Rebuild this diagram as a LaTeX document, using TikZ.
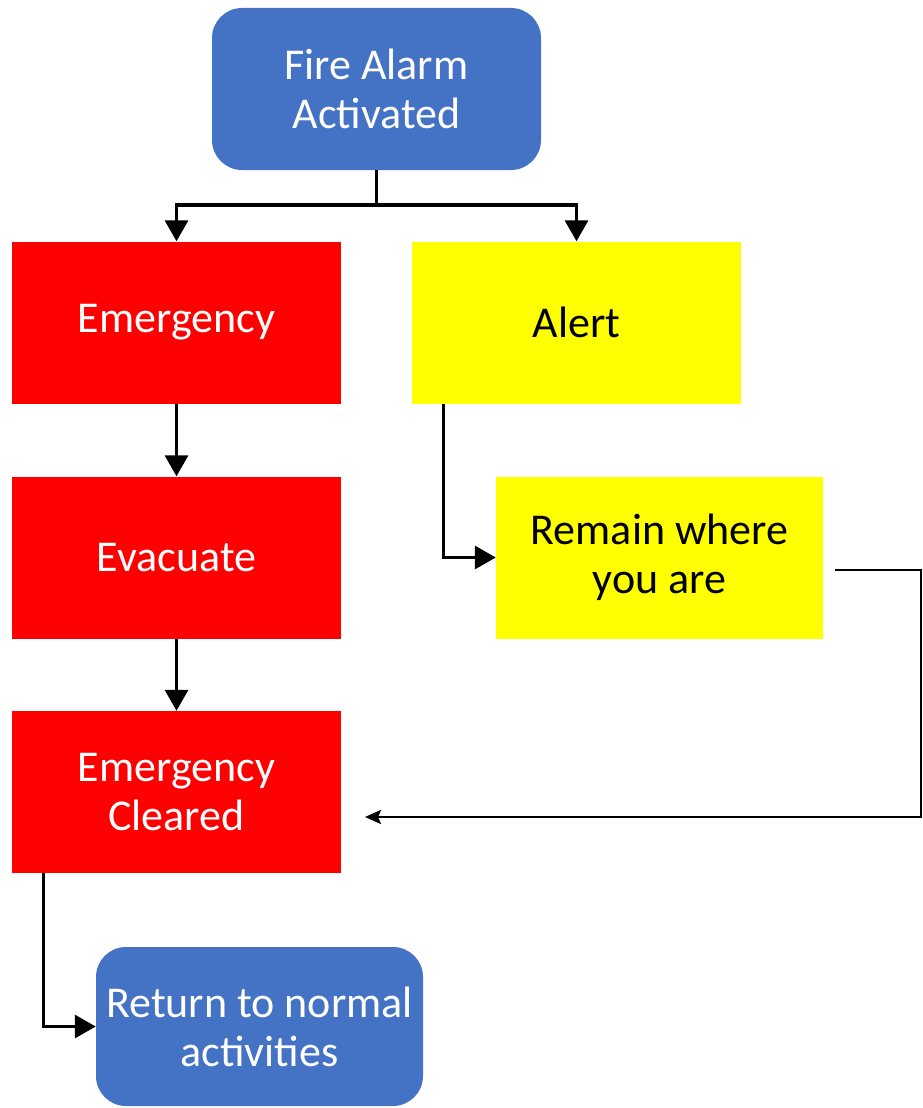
\documentclass[tikz,border=0pt]{standalone}
\usepackage{fontspec}
\setmainfont{Carlito}
\usetikzlibrary{arrows.meta}
\definecolor{boxblue}{HTML}{4472C4}
\definecolor{boxyellow}{HTML}{FFFF00}
\definecolor{boxred}{HTML}{FF0000}
\tikzset{
  box/.style={minimum width=329pt, minimum height=162pt, inner sep=0pt, align=center,
    font=\fontsize{44}{49}\selectfont},
  bluebox/.style={box, fill=boxblue, text=white, rounded corners=30pt},
  redbox/.style={box, fill=boxred, text=white},
  yellowbox/.style={box, fill=boxyellow, text=black},
  arr/.style={line width=3.3pt, -{Triangle[length=21pt,width=23pt]}},
  backarr/.style={line width=2.6pt, -{Stealth[length=16pt,width=14pt,inset=3pt]}}
}
\begin{document}
\begin{tikzpicture}[x=1pt,y=-1pt]
\useasboundingbox (0,0) rectangle (922,1108);
\node [bluebox] (fire) at (376.5, 89) {Fire Alarm\\Activated};
\node [redbox] (emerg) at (176.5, 322.5) {Emergency};
\node [yellowbox] (alert) at (576.5, 322.5) {Alert};
\node [redbox] (evac) at (176.5, 557.5) {Evacuate};
\node [yellowbox, minimum width=327pt] (remain) at (659.5, 557.5) {Remain where\\you are};
\node [redbox] (cleared) at (176.5, 792) {Emergency\\Cleared};
\node [bluebox, minimum width=327pt, minimum height=159pt] (normal) at (259.5, 1026.5) {Return to normal\\activities};
\coordinate (split) at (376.5, 205);
\coordinate (remainout) at (835, 570);
\coordinate (corner) at (921, 817);
\coordinate (clearedin) at (365, 817);
\draw [line width=3.3pt] (fire.south) -- (split);
\draw [arr] (split) -| (emerg.north);
\draw [arr] (split) -| (alert.north);
\draw [arr] (emerg) -- (evac);
\draw [arr] (evac) -- (cleared);
\draw [arr] ([xshift=32pt]alert.south west) |- (remain.west);
\draw [backarr] (remainout) -| (corner) -- (clearedin);
\draw [arr] ([xshift=32pt]cleared.south west) |- (normal.west);
\end{tikzpicture}
\end{document}
